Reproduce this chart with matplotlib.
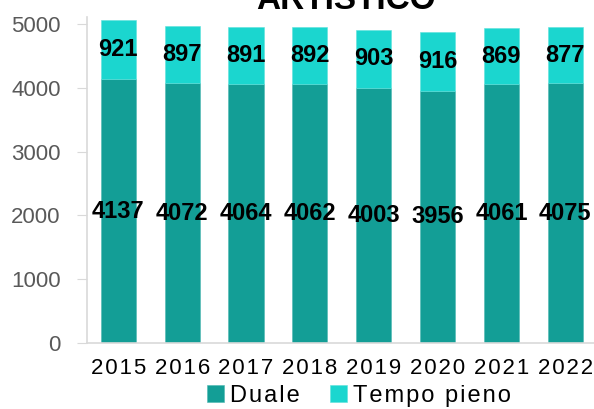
import matplotlib.pyplot as plt
import numpy as np

years = ["2015", "2016", "2017", "2018", "2019", "2020", "2021", "2022"]
duale = [4137, 4072, 4064, 4062, 4003, 3956, 4061, 4075]
tempo_pieno = [921, 897, 891, 892, 903, 916, 869, 877]
yticks = [0, 1000, 2000, 3000, 4000, 5000]

plt.rcParams['font.family'] = ['Liberation Sans', 'DejaVu Sans']

HAIR = "\u200a"


def spaced(s, n=1):
    # crude letter spacing, like the office chart
    return (HAIR * n).join(s)


fig = plt.figure(figsize=(5.94, 4.09), dpi=100)
ax = fig.add_axes([87 / 594, 1 - 343 / 409, 1 - 87 / 594, (343 - 17) / 409])

x = np.arange(len(years))
w = 0.55
b1 = ax.bar(x, duale, w, color="#139E96", edgecolor="#4DB8B1", linewidth=0.4,
            label=spaced("Duale"))
b2 = ax.bar(x, tempo_pieno, w, bottom=duale, color="#1BD6CF", edgecolor="#5EE2DC",
            linewidth=0.4, label=spaced("Tempo pieno"))

for xi, d, t in zip(x, duale, tempo_pieno):
    ax.text(xi, d / 2, str(d), ha="center", va="center", fontsize=17, fontweight="bold")
    ax.text(xi, d + t / 2, str(t), ha="center", va="center", fontsize=17, fontweight="bold")

ax.set_xlim(-0.49, 7.45)
ax.set_ylim(0, 5110)
ax.set_yticks(yticks)
ax.tick_params(axis="y", labelsize=16, labelcolor="#595959", color="#D9D9D9",
               length=7, pad=12)
ax.set_xticks(x)
ax.set_xticklabels([spaced(y) for y in years], fontsize=16)
ax.tick_params(axis="x", length=0, pad=11)

for s in ["top", "right"]:
    ax.spines[s].set_visible(False)
for s in ["left", "bottom"]:
    ax.spines[s].set_color("#D9D9D9")
    ax.spines[s].set_linewidth(1.2)

fig.text(346 / 594, 1 - 9 / 409, "ARTISTICO", ha="center", va="baseline",
         fontsize=24, fontweight="bold")

fig.legend(handles=[b1, b2], loc="center", bbox_to_anchor=(359 / 594, 1 - 396 / 409),
           ncol=2, frameon=False, fontsize=17, handlelength=0.7, handleheight=0.7,
           handletextpad=0.25, columnspacing=1.3, borderaxespad=0)

fig.savefig("out.png", dpi=100)
